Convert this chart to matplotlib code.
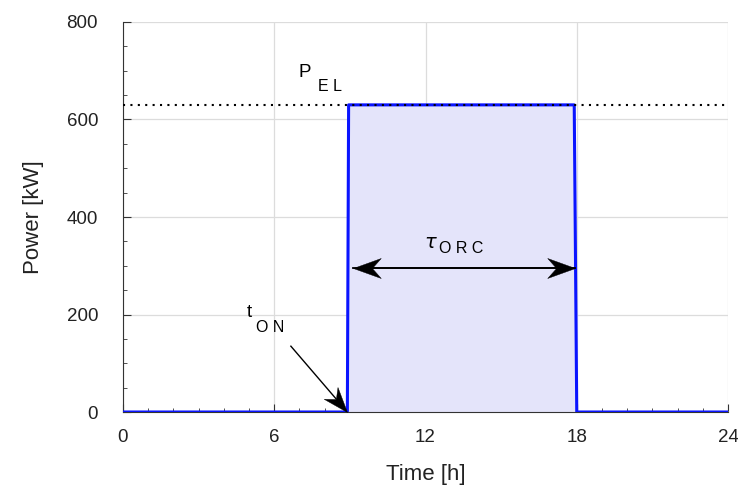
import numpy as np
import matplotlib.pyplot as plt
from matplotlib.path import Path
from matplotlib.ticker import MultipleLocator

plt.rcParams['font.family'] = ['Liberation Sans', 'DejaVu Sans']

# profile of the ORC electric power
t = [0, 8.9, 8.95, 17.9, 18.0, 24]
p = [0, 0, 630, 630, 0, 0]
p_el = 630
t_on = 8.9
t_end = 17.93
y_span = 295

fig = plt.figure(figsize=(7.38, 4.86), dpi=100)
ax = fig.add_axes([123/738, 1-412/486, (728-123)/738, (412-22)/486])

ax.fill_between(t, p, color='#e4e4fa', zorder=1)
ax.plot(t, p, color='#0a14ff', lw=2.2, zorder=3)
ax.axhline(p_el, color='black', ls=(0, (1, 2.55)), lw=1.5, zorder=4)

ax.set_xlim(0, 24)
ax.set_ylim(0, 800)
ax.xaxis.set_major_locator(MultipleLocator(6))
ax.xaxis.set_minor_locator(MultipleLocator(1))
ax.yaxis.set_major_locator(MultipleLocator(200))
ax.yaxis.set_minor_locator(MultipleLocator(50))
ax.grid(True, which='major', color='#dcdcdc', lw=0.9, zorder=0)
ax.set_axisbelow(True)
for s in ['top', 'right']:
    ax.spines[s].set_visible(False)
for s in ['left', 'bottom']:
    ax.spines[s].set_color('#333333')
ax.tick_params(which='both', direction='in', colors='#333333', labelcolor='#222222',
               labelsize=13.5)
ax.tick_params(axis='y', which='major', length=6, pad=18)
ax.tick_params(axis='x', which='major', length=6, pad=12)
ax.tick_params(which='minor', length=3)

ax.set_xlabel('Time [h]', fontsize=16, color='#222222', labelpad=13)
ax.set_ylabel('Power [kW]', fontsize=16, color='#222222', labelpad=16)

# annotations
ax.text(6.98, 687, 'P', fontsize=13.5)
ax.text(7.73, 658, 'E L', fontsize=11.5)
ax.text(11.95, 336, r'$\tau$', fontsize=14)
ax.text(12.55, 326, 'O R C', fontsize=11.5)
ax.text(4.92, 195, 't', fontsize=13.5)
ax.text(5.28, 164, 'O N', fontsize=11.5)


def barb(angle):
    # arrow head with swept back barbs, tip at origin
    v = np.array([[0, 0], [-1, 0.36], [-0.68, 0], [-1, -0.36], [0, 0]])
    a = np.deg2rad(angle)
    r = np.array([[np.cos(a), -np.sin(a)], [np.sin(a), np.cos(a)]])
    return Path(v @ r.T, closed=True)


def arrow(x0, y0, x1, y1, size, lw):
    p0 = ax.transData.transform((x0, y0))
    p1 = ax.transData.transform((x1, y1))
    d = p1 - p0
    ang = np.degrees(np.arctan2(d[1], d[0]))
    back = p1 - d / np.hypot(*d) * size * 100 / 72 / 2 * 0.68
    xb, yb = ax.transData.inverted().transform(back)
    ax.plot([x0, xb], [y0, yb], color='black', lw=lw, zorder=5)
    ax.plot([x1], [y1], marker=barb(ang), ms=size, color='black', mew=0.3, zorder=6)


arrow(t_end, y_span, t_on + 0.22, y_span, 40, 1.3)
arrow(t_on + 0.22, y_span, t_end, y_span, 40, 1.3)
arrow(6.66, 135, t_on, 0, 36, 1.0)

fig.savefig('out.png', dpi=100)
